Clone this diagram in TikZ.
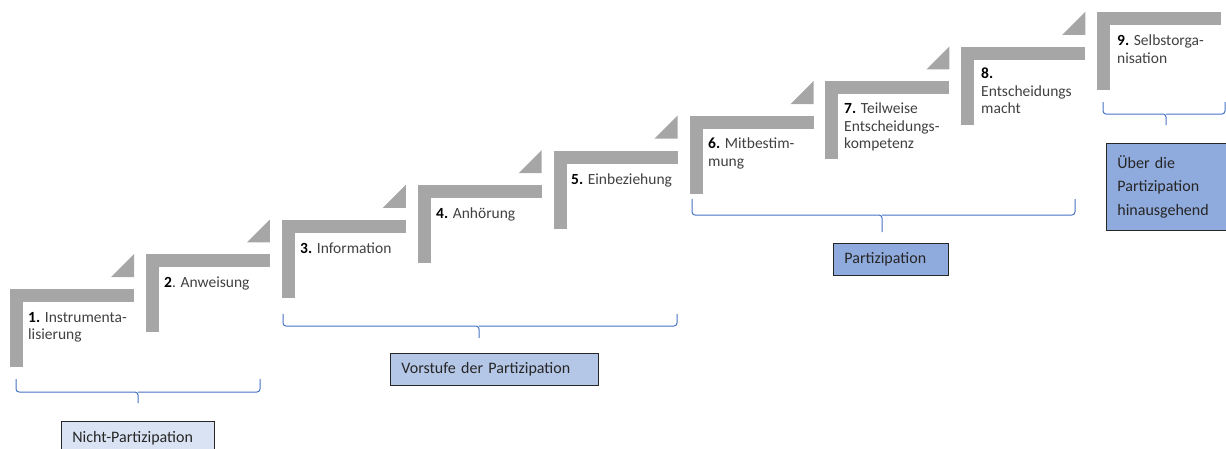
\documentclass[tikz,border=0pt]{standalone}
\usepackage{fontspec}
\setmainfont{Carlito}

\definecolor{stepgray}{HTML}{A6A6A6}
\definecolor{bracketblue}{HTML}{4472C4}
\definecolor{textgray}{HTML}{404040}
\definecolor{paleblue}{HTML}{DAE3F3}
\definecolor{softblue}{HTML}{B4C7E7}
\definecolor{deepblue}{HTML}{8FAADC}

\tikzset{
    steptext/.style={anchor=north west, inner sep=0pt, align=left, text=textgray,
        font=\fontsize{15.5}{17.5}\selectfont},
    bracket/.style={draw=bracketblue, line width=1pt, rounded corners=3pt},
    groupbox/.style={draw=black!85, line width=0.8pt, anchor=north west,
        inner xsep=11pt, inner ysep=0pt, align=left, text=black!85,
        font=\fontsize{16}{23.5}\selectfont}
}
\newcommand{\stepno}[1]{\textcolor{black}{\textbf{#1}}}

\begin{document}
\begin{tikzpicture}[x=1pt,y=-1pt]

    \useasboundingbox (0,0) rectangle (1226,448);

    %draw steps:
    \foreach \i in {0,...,8} {
        \pgfmathsetmacro\sx{10+135.9*\i}
        \pgfmathsetmacro\sy{289-34.6*\i}
        \fill[stepgray] (\sx,\sy) rectangle ++(124,13);
        \fill[stepgray] (\sx,\sy) rectangle ++(13,78);
    }
    \foreach \i in {0,...,7} {
        \pgfmathsetmacro\sx{10+135.9*\i}
        \pgfmathsetmacro\sy{289-34.6*\i}
        \fill[stepgray] (\sx+101,\sy-12) -- (\sx+124,\sy-12) -- (\sx+124,\sy-35) -- cycle;
    }

    %step labels:
    \node[steptext] (s1) at (28,312) {\stepno{1.} Instrumenta-\\lisierung};
    \node[steptext] (s2) at (164,277) {\stepno{2}. Anweisung};
    \node[steptext] (s3) at (300,243) {\stepno{3.} Information};
    \node[steptext] (s4) at (436,208) {\stepno{4.} Anhörung};
    \node[steptext] (s5) at (571,174) {\stepno{5.} Einbeziehung};
    \node[steptext] (s6) at (708,138) {\stepno{6.} Mitbestim-\\mung};
    \node[steptext] (s7) at (844,103) {\stepno{7.} Teilweise\\Entscheidungs-\\kompetenz};
    \node[steptext] (s8) at (981,68) {\stepno{8.}\\Entscheidungs\\macht};
    \node[steptext] (s9) at (1117,35) {\stepno{9.} Selbstorga-\\nisation};

    %draw brackets:
    \draw[bracket] (16,379) |- (138,392) -- (138,403);
    \draw[bracket] (138,392) -| (260,379);
    \draw[bracket] (283,314) |- (479,326) -- (479,338);
    \draw[bracket] (479,326) -| (677,314);
    \draw[bracket] (692,199) |- (882,215) -- (882,232);
    \draw[bracket] (882,215) -| (1075,199);
    \draw[bracket] (1103,102) |- (1166,114) -- (1166,125);
    \draw[bracket] (1166,114) -| (1225,102);

    %group boxes:
    \node[groupbox, fill=paleblue, minimum width=153, minimum height=34, text width=131]
        (g1) at (61,421) {Nicht-Partizipation};
    \node[groupbox, fill=softblue, minimum width=208, minimum height=32, text width=186]
        (g2) at (390,353) {Vorstufe der Partizipation};
    \node[groupbox, fill=deepblue, minimum width=115, minimum height=32, text width=93]
        (g3) at (833,243) {Partizipation};
    \node[groupbox, fill=deepblue, minimum width=125, minimum height=87, text width=103]
        (g4) at (1106,143) {Über die\\Partizipation\\hinausgehend};

\end{tikzpicture}
\end{document}
